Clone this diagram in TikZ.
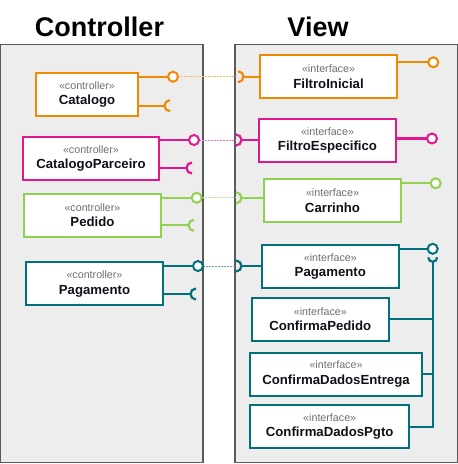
\documentclass[tikz,border=0pt]{standalone}
\usepackage{fontspec}
\setmainfont{Liberation Sans}
\usetikzlibrary{calc}
\usetikzlibrary{scopes}

\definecolor{catorange}{HTML}{F08A00}
\definecolor{parcpink}{HTML}{E3168F}
\definecolor{pedgreen}{HTML}{92D050}
\definecolor{pagteal}{HTML}{00707A}
\definecolor{panelgrey}{HTML}{EDEDED}
\definecolor{panelline}{HTML}{5A5A5A}
\definecolor{stereogrey}{HTML}{6E6E78}
\definecolor{nameblack}{HTML}{10101A}
\newcommand{\stereotype}[1]{{\fontsize{10.7}{12}\selectfont\mdseries\color{stereogrey}«#1»}}

\tikzset{
  panel/.style={fill=panelgrey, draw=panelline, line width=1.3pt},
  title/.style={font=\fontsize{27}{30}\selectfont\bfseries, anchor=base},
  compbox/.style={draw, fill=white, line width=2pt, inner sep=0pt, minimum height=43.3pt,
    align=center, text=nameblack, font=\fontsize{13.2}{15.5}\selectfont\bfseries},
  wire/.style={line width=2.2pt},
  ball/.style={line width=2pt, fill=white},
  link/.style={line width=1pt, dash pattern=on 2pt off 1pt}
}

\begin{document}
\begin{tikzpicture}[x=1pt,y=-1pt]
        \useasboundingbox (0,0) rectangle (458,464);
        \draw[panel] (0.7,44.3) rectangle (203,462.7);
        \draw[panel] (235,44.3) rectangle (457.3,462.7);
        \node[title] (tController) at (99.5,36) {Controller};
        \node[title] (tView) at (318,36) {View};
        { [catorange]
            \node[compbox, minimum width=102pt] (c1) at (87,94.3) {\stereotype{controller}\\Catalogo};
            \node[compbox, minimum width=137.6pt] (v1) at (328.5,76.5) {\stereotype{interface}\\FiltroInicial};
            \coordinate (c1-ball) at (173,76.7);
            \coordinate (c1-sock) at (170,105.7);
            \coordinate (v1-sock) at (238,76.7);
            \coordinate (v1-ball) at (433.3,62.3);
        }
        { [parcpink]
            \node[compbox, minimum width=136pt] (c2) at (91,158.3) {\stereotype{controller}\\CatalogoParceiro};
            \node[compbox, minimum width=137.6pt] (v2) at (327.5,140.5) {\stereotype{interface}\\FiltroEspecifico};
            \coordinate (c2-ball) at (194,140);
            \coordinate (c2-sock) at (192,168);
            \coordinate (v2-sock) at (236,140);
            \coordinate (v2-ball) at (432,138.5);
        }
        { [pedgreen]
            \node[compbox, minimum width=137pt] (c3) at (92.5,215.3) {\stereotype{controller}\\Pedido};
            \node[compbox, minimum width=137.6pt] (v3) at (332.5,200.7) {\stereotype{interface}\\Carrinho};
            \coordinate (c3-ball) at (196.7,197.8);
            \coordinate (c3-sock) at (194,225.3);
            \coordinate (v3-sock) at (236,197.8);
            \coordinate (v3-ball) at (435.7,183.3);
        }
        { [pagteal]
            \node[compbox, minimum width=137.6pt] (c4) at (94.5,283.8) {\stereotype{controller}\\Pagamento};
            \node[compbox, minimum width=137.3pt] (v4) at (330.3,266.5) {\stereotype{interface}\\Pagamento};
            \node[compbox, minimum width=137.3pt] (v5) at (320.3,319.3) {\stereotype{interface}\\ConfirmaPedido};
            \node[compbox, minimum width=172.6pt] (v6) at (336,374.2) {\stereotype{interface}\\ConfirmaDadosEntrega};
            \node[compbox, minimum width=158.7pt] (v7) at (329.7,426.3) {\stereotype{interface}\\ConfirmaDadosPgto};
            \coordinate (c4-ball) at (198,266);
            \coordinate (c4-sock) at (196,294);
            \coordinate (v4-sock) at (236,266);
            \coordinate (v4-ball) at (432.7,248.8);
            \coordinate (v4-req) at (432.7,257.3);
            \coordinate (v7-bus) at (432.7,426.7);
        }
        \foreach \i/\col in {1/catorange,2/parcpink,3/pedgreen,4/pagteal} {
            \draw[wire, draw=\col] (c\i.east |- c\i-ball) -- ([xshift=-5pt]c\i-ball);
            \draw[wire, draw=\col] (c\i.east |- c\i-sock) -- ([xshift=-5pt]c\i-sock);
            \draw[wire, draw=\col] ([yshift=5.5pt]c\i-sock) arc[start angle=90, end angle=270, radius=5.5pt];
            \draw[link, draw=\col!60] ([xshift=5pt]c\i-ball) -- (v\i-sock);
            \draw[ball, draw=\col] (c\i-ball) circle[radius=5pt];
            \draw[wire, draw=\col] ([yshift=5.5pt]v\i-sock) arc[start angle=90, end angle=-90, radius=5.5pt];
            \draw[wire, draw=\col] ([xshift=5.5pt]v\i-sock) -- (v\i-sock -| v\i.west);
            \draw[wire, draw=\col] (v\i.east |- v\i-ball) -- ([xshift=-5pt]v\i-ball);
            \draw[ball, draw=\col] (v\i-ball) circle[radius=5pt];
        }
        \begin{scope}[draw=pagteal, wire]
            \draw ([xshift=-4.5pt]v4-req) arc[start angle=180, end angle=360, radius=4.5pt];
            \draw ([yshift=-4.5pt]v4-req) -- (v7-bus) -- (v7.east |- v7-bus);
            \draw (v5.east) -- (v5.east -| v7-bus);
            \draw (v6.east) -- (v6.east -| v7-bus);
        \end{scope}
\end{tikzpicture}
\end{document}
